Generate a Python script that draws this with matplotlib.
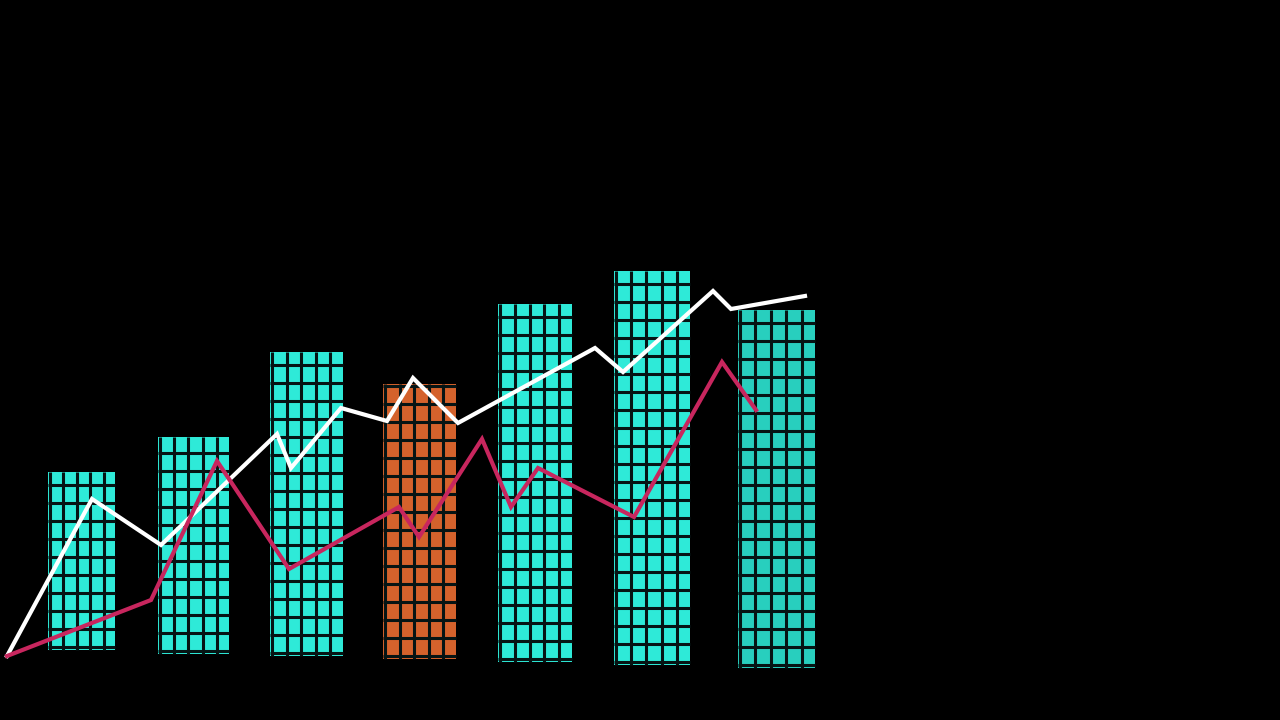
import matplotlib
matplotlib.use("Agg")
import matplotlib.pyplot as plt
import numpy as np

# bars (positions in a 1280x720 canvas scale, y measured from bottom)
bar_x = [81.5, 193.5, 306.5, 419.5, 535, 652, 776.5]
bar_width = [67, 71, 73, 73, 74, 76, 77]
bar_bottom = [70, 66, 64, 61, 58, 55, 52]
bar_height = [178, 217, 304, 275, 358, 394, 358]
bar_colors = ["#2EEAD8", "#2EEAD8", "#2EEAD8", "#D4622C", "#2EEAD8", "#2EEAD8", "#28CFBE"]

# white trend line
white_x = [7, 92, 161, 277, 291, 341, 387, 413, 458, 595, 623, 713, 731, 805]
white_y = [64, 221, 175, 286, 252, 312, 299, 342, 297, 372, 348, 429, 411, 424]

# crimson trend line
red_x = [7, 151, 217, 289, 399, 419, 482, 511, 538, 634, 722, 756]
red_y = [64, 120, 259, 151, 213, 183, 281, 213, 252, 203, 358, 310]

cell_h = 18
n_cols = 5

fig = plt.figure(figsize=(12.8, 7.2), dpi=100, facecolor="black")
ax = fig.add_axes([0, 0, 1, 1])
ax.set_facecolor("black")

ax.bar(bar_x, bar_height, width=bar_width, bottom=bar_bottom,
       color=bar_colors, linewidth=0)

# grid pattern over each bar
for x, w, b, h in zip(bar_x, bar_width, bar_bottom, bar_height):
    left, right = x - w / 2, x + w / 2
    rows = np.arange(b + 3, b + h, cell_h)
    ax.hlines(rows, left, right, color="#061414", lw=2.2)
    cols = left + 2 + np.arange(n_cols) * (w / n_cols)
    ax.vlines(cols, b, b + h, color="#061414", lw=2.2)

ax.plot(white_x, white_y, color="white", lw=3, solid_joinstyle="miter")
ax.plot(red_x, red_y, color="#C8265E", lw=3, solid_joinstyle="miter")

ax.set_xlim(0, 1280)
ax.set_ylim(0, 720)
ax.axis("off")

fig.savefig("out.png", dpi=100, facecolor="black")
